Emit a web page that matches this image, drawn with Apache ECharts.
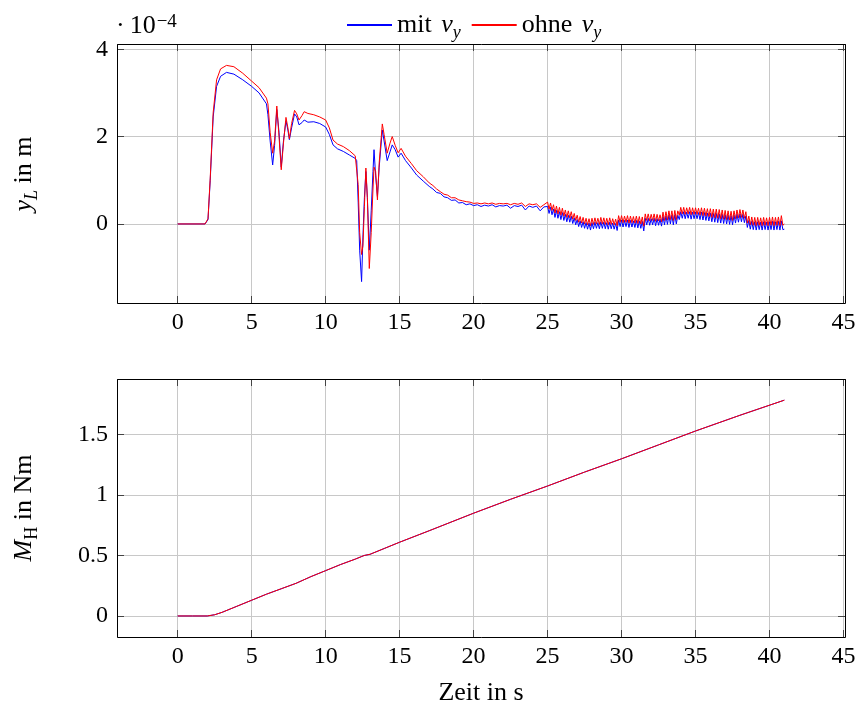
<!DOCTYPE html>
<html><head><meta charset="utf-8">
<script src="https://cdn.jsdelivr.net/npm/echarts@6/dist/echarts.min.js"></script>
<style>html,body{margin:0;padding:0;background:#fff}#c{width:859px;height:711px}</style>
</head><body><div id="c"></div>
<script>
// ---------------- DATA ----------------
const seriesNames = ['mit v_y', 'ohne v_y'];
const seriesColors = ['#0000ff', '#ff0000'];

// top plot (y_L in 1e-4 m), transient part
const tMain = [0,1.85,1.95,2.05,2.2,2.4,2.63,2.9,3.3,3.8,
  4.4,5.0,5.5,6.0,6.1,6.25,6.42,6.55,6.7,6.85,
  7.0,7.15,7.32,7.45,7.55,7.7,7.9,8.05,8.2,8.4,
  8.55,8.8,9.2,9.6,10.0,10.25,10.5,10.8,11.2,11.6,
  12.0,12.1,12.2,12.3,12.43,12.52,12.62,12.72,12.82,12.95,
  13.08,13.2,13.27,13.38,13.5,13.62,13.83,13.95,14.16,14.35,
  14.5,14.7,14.9,15.1,15.4,15.8,16.15,16.6,
  17.0,17.25,17.5,17.75,18.0,18.25,18.5,18.75,19.0,19.25,
  19.5,19.75,20.0,20.25,20.5,20.75,21.0,21.25,21.5,21.75,
  22.0,22.25,22.5,22.75,23.0,23.25,23.5,23.75,24.0,24.25,
  24.5,24.75];
const yMitMain = [0,0,-0.04,0.1,1.0,2.45,3.15,3.38,3.47,3.43,
  3.3,3.15,3.0,2.75,2.5,1.9,1.35,1.8,2.62,2.1,
  1.3,1.9,2.36,2.15,1.93,2.2,2.52,2.45,2.27,2.32,
  2.38,2.33,2.34,2.3,2.22,2.05,1.81,1.72,1.66,1.58,
  1.5,1.45,0.5,-0.6,-1.32,-0.3,0.6,1.2,0.6,-0.6,
  0.3,1.2,1.7,1.1,0.63,1.3,2.15,1.9,1.45,1.65,
  1.81,1.7,1.53,1.62,1.45,1.28,1.12,0.98,
  .86,.80,.72,.70,.62,.60,.54,.55,.48,.49,
  .44,.46,.42,.44,.40,.43,.41,.44,.39,.42,
  .41,.43,.36,.42,.40,.43,.32,.41,.38,.41,
  .30,.39];
const yOhneMain = [0,0,-0.03,0.12,1.05,2.55,3.3,3.55,3.63,3.6,
  3.45,3.27,3.12,2.88,2.75,2.1,1.62,1.9,2.7,2.0,
  1.24,1.85,2.44,2.2,1.95,2.3,2.6,2.52,2.38,2.48,
  2.57,2.53,2.5,2.45,2.38,2.2,1.92,1.83,1.77,1.68,
  1.56,1.52,0.9,-0.2,-0.7,-0.5,0.4,1.28,0.6,-1.02,
  -0.2,0.8,1.3,1.2,0.55,1.4,2.29,2.05,1.62,1.85,
  2.0,1.8,1.63,1.73,1.55,1.38,1.22,1.08,
  .94,.88,.80,.74,.68,.66,.60,.60,.55,.53,
  .51,.50,.47,.48,.46,.48,.46,.48,.45,.47,
  .46,.47,.44,.47,.45,.48,.40,.46,.44,.46,
  .38,.44];

// top plot, oscillating part
const tOsc = [25.0,25.1,25.2,25.3,25.4,25.5,25.6,25.7,25.8,25.9,
  26.0,26.1,26.2,26.3,26.4,26.5,26.6,26.7,26.8,26.9,
  27.0,27.1,27.2,27.3,27.4,27.5,27.6,27.7,27.8,27.9,
  28.0,28.1,28.2,28.3,28.4,28.5,28.6,28.7,28.8,28.9,
  29.0,29.1,29.2,29.3,29.4,29.5,29.6,29.7,29.8,29.9,
  30.0,30.1,30.2,30.3,30.4,30.5,30.6,30.7,30.8,30.9,
  31.0,31.1,31.2,31.3,31.4,31.5,31.6,31.7,31.8,31.9,
  32.0,32.1,32.2,32.3,32.4,32.5,32.6,32.7,32.8,32.9,
  33.0,33.1,33.2,33.3,33.4,33.5,33.6,33.7,33.8,33.9,
  34.0,34.1,34.2,34.3,34.4,34.5,34.6,34.7,34.8,34.9,
  35.0,35.1,35.2,35.3,35.4,35.5,35.6,35.7,35.8,35.9,
  36.0,36.1,36.2,36.3,36.4,36.5,36.6,36.7,36.8,36.9,
  37.0,37.1,37.2,37.3,37.4,37.5,37.6,37.7,37.8,37.9,
  38.0,38.1,38.2,38.3,38.4,38.5,38.6,38.7,38.8,38.9,
  39.0,39.1,39.2,39.3,39.4,39.5,39.6,39.7,39.8,39.9,
  40.0,40.1,40.2,40.3,40.4,40.5,40.6,40.7,40.8,40.9,
  41.0];
const yMitOsc = [.40,.24,.38,.21,.34,.15,.31,.13,.28,.10,
  .26,.08,.22,.05,.20,.04,.18,.01,.14,-.02,
  .10,-.06,.07,-.08,.05,-.10,.03,-.12,.02,-.14,
  .03,-.11,.04,-.10,.03,-.11,.05,-.10,.04,-.11,
  .03,-.12,.04,-.11,.02,-.12,.01,-.15,.09,-.06,
  .09,-.07,.08,-.06,.09,-.08,.08,-.07,.07,-.08,
  .08,-.09,.07,-.10,.06,-.16,.13,-.02,.13,-.03,
  .12,-.02,.13,-.04,.12,-.03,.11,-.05,.17,-.02,
  .18,-.01,.20,.00,.20,-.02,.21,.00,.20,.10,
  .28,.13,.28,.12,.27,.13,.28,.11,.27,.12,
  .27,.12,.26,.10,.27,.09,.26,.08,.25,.07,
  .25,.05,.24,.04,.24,.03,.23,.02,.22,.01,
  .21,.00,.20,-.01,.19,-.02,.20,.02,.22,.04,
  .23,.05,.22,.03,.18,-.08,.08,-.12,.06,-.13,
  .05,-.14,.05,-.13,.04,-.14,.05,-.13,.04,-.14,
  .05,-.13,.06,-.14,.05,-.13,.06,-.14,.07,-.13,
  -.12];
const yOhneOsc = [.50,.34,.48,.31,.44,.25,.41,.23,.38,.20,
  .36,.18,.32,.15,.30,.14,.28,.11,.24,.08,
  .20,.04,.17,.02,.15,.00,.13,-.02,.12,-.04,
  .13,-.01,.14,.00,.13,-.01,.15,.00,.14,-.01,
  .13,-.02,.14,-.01,.12,-.02,.11,-.04,.19,.04,
  .19,.03,.18,.04,.19,.02,.18,.03,.17,.02,
  .18,.01,.17,.00,.16,-.05,.23,.08,.23,.07,
  .22,.08,.23,.06,.22,.07,.21,.05,.27,.08,
  .28,.09,.30,.10,.30,.08,.31,.10,.30,.20,
  .38,.23,.38,.22,.37,.23,.38,.21,.37,.22,
  .37,.22,.36,.20,.37,.19,.36,.18,.35,.17,
  .35,.15,.34,.14,.34,.13,.33,.12,.32,.11,
  .31,.10,.30,.09,.29,.08,.30,.12,.32,.14,
  .33,.15,.32,.13,.28,.02,.18,-.02,.16,-.03,
  .15,-.04,.15,-.03,.14,-.04,.15,-.03,.14,-.04,
  .15,-.03,.16,-.04,.15,-.03,.16,-.04,.19,-.03,
  .00];

// bottom plot (M_H in Nm)
const tMoment = [0,1,2,2.5,3,4,5,6,7,8,9,10,11,12,12.4,12.6,13,14,15,17,20,22.5,25,27.5,30,32.5,35,38,41];
const momentH = [0,0,0,0.01,0.03,0.08,0.13,0.18,0.225,0.27,0.325,0.375,0.425,0.47,0.49,0.5,0.51,0.56,0.61,0.705,0.85,0.965,1.075,1.19,1.3,1.415,1.53,1.66,1.785];

// axis ranges
const xRange = [-4.1, 45.1];
const yTopRange = [-1.81, 4.12];
const yBotRange = [-0.174, 1.96];

// ---------------- CHART ----------------
const FONT = 'Liberation Serif';
const zip = (a, b) => a.map((v, i) => [v, b[i]]);
const grids = [
  {left: 117, top: 44, width: 728, height: 259},
  {left: 117, top: 379, width: 728, height: 258}
];
const BIG = 26;
const rich = {
  r: {fontFamily: FONT, fontSize: BIG, color: '#000', lineHeight: BIG, verticalAlign: 'top'},
  r2: {fontFamily: FONT, fontSize: BIG, color: '#000', lineHeight: BIG, verticalAlign: 'top', padding: [0, 0, 0, 5]},
  i: {fontFamily: FONT, fontSize: BIG, fontStyle: 'italic', color: '#000', lineHeight: BIG, verticalAlign: 'top', padding: [0, 0, 0, 3]},
  i0: {fontFamily: FONT, fontSize: BIG, fontStyle: 'italic', color: '#000', lineHeight: BIG, verticalAlign: 'top'},
  s: {fontFamily: FONT, fontSize: 18, fontStyle: 'italic', color: '#000', lineHeight: 18, padding: [12, 0, 0, 0], verticalAlign: 'top'},
  su: {fontFamily: FONT, fontSize: 18, color: '#000', lineHeight: 18, padding: [12, 0, 0, 0], verticalAlign: 'top'},
  sup: {fontFamily: FONT, fontSize: 19, color: '#000', lineHeight: 19, padding: [0, 0, 0, 1], verticalAlign: 'top'}
};
const tickStyle = {show: true, inside: true, length: 7, lineStyle: {color: '#444', width: 1}};
const noTick = {show: false};
const labelStyle = {fontFamily: FONT, fontSize: 24, color: '#000'};
const gridLine = {show: true, lineStyle: {color: '#c8c8c8', width: 1}};

// role: 'label' (ticks + labels), 'tick' (ticks only), 'grid' (grid lines only, drawn underneath)
function xAx(gi, pos, role) {
  return {type: 'value', gridIndex: gi, position: pos, min: xRange[0], max: xRange[1], splitNumber: 10,
    z: role === 'grid' ? 0 : 4,
    axisLine: {show: false, onZero: false},
    axisTick: role === 'grid' ? noTick : tickStyle,
    axisLabel: Object.assign({show: role === 'label', showMinLabel: false, showMaxLabel: false, margin: 8}, labelStyle),
    splitLine: role === 'grid' ? gridLine : {show: false}};
}
function yAx(gi, pos, role, rng, sn) {
  return {type: 'value', gridIndex: gi, position: pos, min: rng[0], max: rng[1], splitNumber: sn,
    z: role === 'grid' ? 0 : 4,
    axisLine: {show: false, onZero: false},
    axisTick: role === 'grid' ? noTick : tickStyle,
    axisLabel: Object.assign({show: role === 'label', showMinLabel: false, showMaxLabel: false, margin: 9}, labelStyle),
    splitLine: role === 'grid' ? gridLine : {show: false}};
}

function lineSeries(name, color, xi, yi, data) {
  return {name, type: 'line', xAxisIndex: xi, yAxisIndex: yi, data, symbol: 'none', showSymbol: false,
    lineStyle: {color, width: 1}, itemStyle: {color}, animation: false, z: 3};
}

const option = {
  animation: false,
  backgroundColor: '#fff',
  grid: grids.map(g => Object.assign({containLabel: false}, g)),
  xAxis: [xAx(0, 'bottom', 'label'), xAx(0, 'top', 'tick'), xAx(0, 'bottom', 'grid'),
          xAx(1, 'bottom', 'label'), xAx(1, 'top', 'tick'), xAx(1, 'bottom', 'grid')],
  yAxis: [yAx(0, 'left', 'label', yTopRange, 3), yAx(0, 'right', 'tick', yTopRange, 3), yAx(0, 'left', 'grid', yTopRange, 3),
          yAx(1, 'left', 'label', yBotRange, 4), yAx(1, 'right', 'tick', yBotRange, 4), yAx(1, 'left', 'grid', yBotRange, 4)],
  legend: {
    left: 342, top: 7, itemWidth: 45, itemHeight: 2, itemGap: 11, icon: 'rect',
    data: seriesNames,
    formatter: n => n === seriesNames[0] ? '{r|mit }{i|v}{s|y}' : '{r|ohne }{i|v}{s|y}',
    textStyle: {rich}
  },
  series: [
    lineSeries(seriesNames[0], seriesColors[0], 0, 0, zip(tMain.concat(tOsc), yMitMain.concat(yMitOsc))),
    lineSeries(seriesNames[1], seriesColors[1], 0, 0, zip(tMain.concat(tOsc), yOhneMain.concat(yOhneOsc))),
    lineSeries(seriesNames[0], seriesColors[0], 3, 3, zip(tMoment, momentH)),
    lineSeries(seriesNames[1], seriesColors[1], 3, 3, zip(tMoment, momentH))
  ],
  graphic: [
    ...grids.map(g => ({type: 'rect', silent: true, z: 100,
      shape: {x: g.left + 0.5, y: g.top + 0.5, width: g.width, height: g.height},
      style: {fill: 'none', stroke: '#000', lineWidth: 1}})),
    {type: 'text', silent: true, z: 100, x: 24, y: 174, rotation: Math.PI / 2,
      style: {text: '{i0|y}{s|L}{r| in m}', rich, align: 'center', verticalAlign: 'middle'}},
    {type: 'text', silent: true, z: 100, x: 24, y: 508, rotation: Math.PI / 2,
      style: {text: '{i0|M}{su|H}{r| in Nm}', rich, align: 'center', verticalAlign: 'middle'}},
    {type: 'text', silent: true, z: 100, x: 116, y: 26,
      style: {text: '{r|·}{r2|10}{sup|−4}', rich, align: 'left', verticalAlign: 'middle'}},
    {type: 'text', silent: true, z: 100, x: 481, y: 693,
      style: {text: 'Zeit in s', fontFamily: FONT, fontSize: BIG, fill: '#000', align: 'center', verticalAlign: 'middle'}}
  ]
};
const chart = echarts.init(document.getElementById('c'), null, {renderer: 'canvas'});
chart.setOption(option);
</script>
</body></html>
